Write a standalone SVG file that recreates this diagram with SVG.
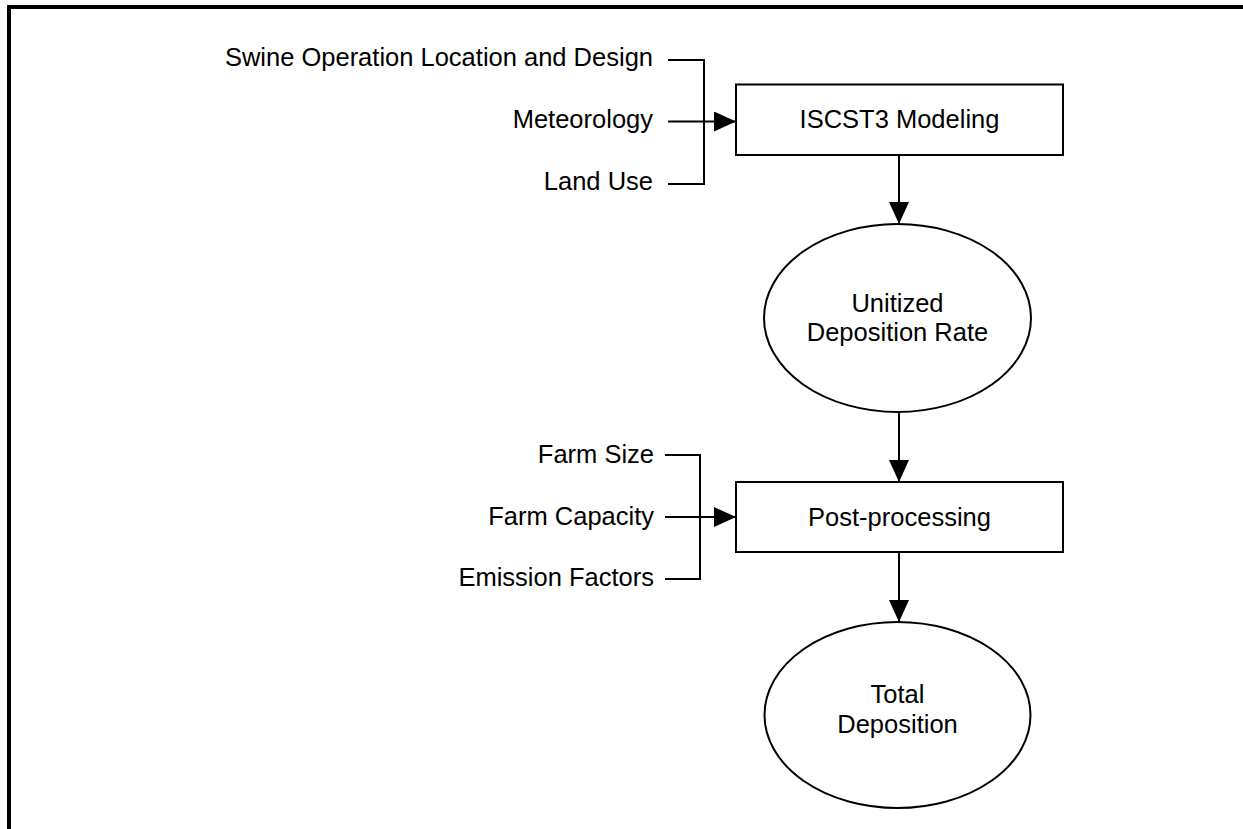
<svg xmlns="http://www.w3.org/2000/svg" width="1243" height="829" viewBox="0 0 1243 829">
<defs>
<marker id="ah" markerUnits="userSpaceOnUse" markerWidth="22" markerHeight="20" refX="22" refY="10" orient="auto" viewBox="0 0 22 20">
<path d="M0,0 L22,10 L0,20 Z" fill="#000"/>
</marker>
<style>
.t{font-family:"Liberation Sans",Arial,sans-serif;font-size:25.5px;fill:#000}
.r{text-anchor:end}
.m{text-anchor:middle}
.s{fill:#fff;stroke:#000;stroke-width:2}
.c{fill:none;stroke:#000;stroke-width:2}
</style>
</defs>
<rect width="1243" height="829" fill="#fff"/>
<g id="frame">
<path d="M9,829 V7 H1243" fill="none" stroke="#000" stroke-width="4"/>
</g>
<g id="inputs1">
<text class="t r" x="653" y="66">Swine Operation Location and Design</text>
<text class="t r" x="653" y="128">Meteorology</text>
<text class="t r" x="653" y="190">Land Use</text>
</g>
<g id="inputs2">
<text class="t r" x="654" y="463">Farm Size</text>
<text class="t r" x="654" y="524.5">Farm Capacity</text>
<text class="t r" x="654" y="586">Emission Factors</text>
</g>
<g id="connectors">
<path class="c" d="M668,60 H704 V184 H668"/>
<path class="c" d="M668,121.5 H736" marker-end="url(#ah)"/>
<path class="c" d="M665,455 H700 V579 H665"/>
<path class="c" d="M665,517 H736" marker-end="url(#ah)"/>
<path class="c" d="M899,155 V224" marker-end="url(#ah)"/>
<path class="c" d="M899,412 V482" marker-end="url(#ah)"/>
<path class="c" d="M899,552 V622" marker-end="url(#ah)"/>
</g>
<g id="iscst3">
<rect class="s" x="736" y="84.5" width="327" height="70.5"/>
<text class="t m" x="899.5" y="128">ISCST3 Modeling</text>
</g>
<g id="unitized">
<ellipse class="s" cx="897.5" cy="318" rx="133.5" ry="94"/>
<text class="t m" x="897.5" y="311.5">Unitized</text>
<text class="t m" x="897.5" y="341">Deposition Rate</text>
</g>
<g id="postprocessing">
<rect class="s" x="736" y="482" width="327" height="70"/>
<text class="t m" x="899.5" y="525.5">Post-processing</text>
</g>
<g id="total">
<ellipse class="s" cx="897.5" cy="715" rx="133" ry="93"/>
<text class="t m" x="897.5" y="702.5">Total</text>
<text class="t m" x="897.5" y="732.5">Deposition</text>
</g>
</svg>
